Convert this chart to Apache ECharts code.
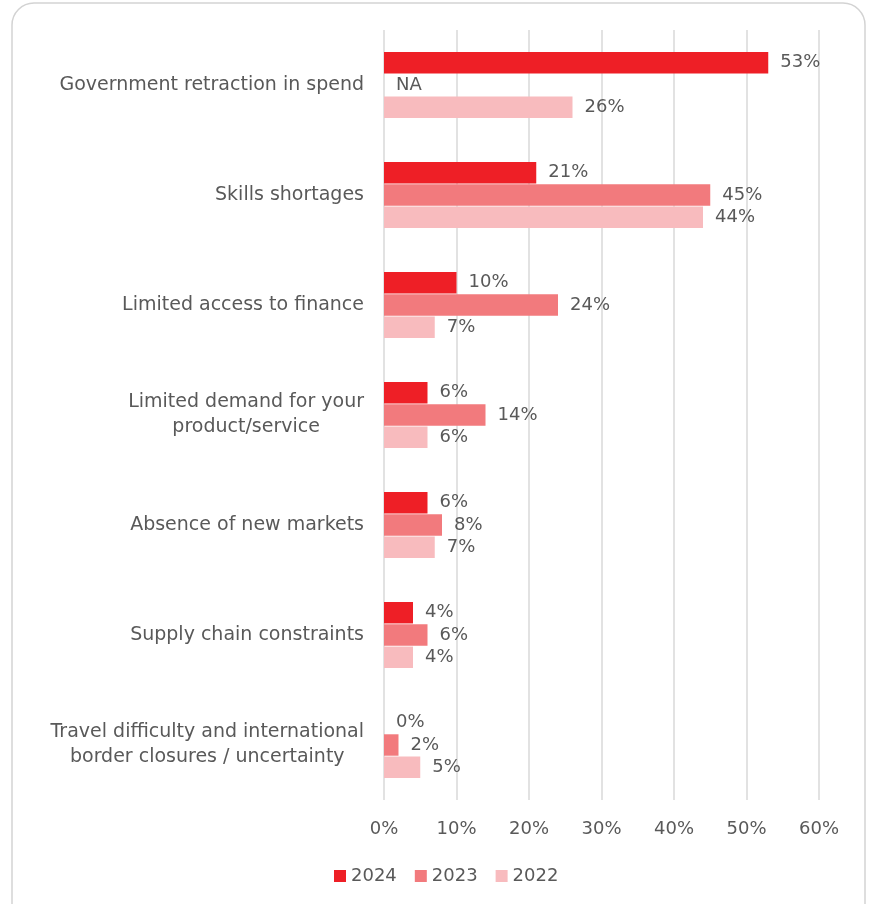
<!DOCTYPE html>
<html>
<head>
<meta charset="utf-8">
<style>
  html, body { margin: 0; padding: 0; background: #ffffff; }
  #chart { width: 870px; height: 904px; }
</style>
<script src="https://cdn.jsdelivr.net/npm/echarts@6/dist/echarts.min.js"></script>
</head>
<body>
<div id="chart"></div>
<script>
// Barriers to growth, share of respondents by survey year
const categories = [
  'Government retraction in spend',
  'Skills shortages',
  'Limited access to finance',
  'Limited demand for your\nproduct/service',
  'Absence of new markets',
  'Supply chain constraints',
  'Travel difficulty and international\nborder closures / uncertainty'
];
const seriesNames = ['2024', '2023', '2022'];
const values2024 = [53, 21, 10, 6, 6, 4, 0];
const values2023 = [null, 45, 24, 14, 8, 6, 2]; // null = not asked that year
const values2022 = [26, 44, 7, 6, 7, 4, 5];
const xTicks = [0, 10, 20, 30, 40, 50, 60];

const colors = ['#EE1F26', '#F27A7D', '#F8BBBE'];
const textColor = '#595959';
const fontFamily = '"DejaVu Sans", sans-serif';

function toData(arr) {
  return arr.map(v => v === null
    ? { value: 0, label: { formatter: 'NA' } }
    : v);
}

const allValues = [values2024, values2023, values2022];

const chart = echarts.init(document.getElementById('chart'));
chart.setOption({
  animation: false,
  textStyle: { fontFamily: fontFamily },
  graphic: [{
    type: 'rect',
    shape: { x: 12, y: 3, width: 853, height: 940, r: 22 },
    style: { fill: 'none', stroke: '#d3d3d3', lineWidth: 1.5 },
    silent: true
  }],
  grid: { left: 384, right: 51, top: 30, bottom: 104 },
  legend: {
    bottom: 14,
    left: 329,
    itemWidth: 12,
    itemHeight: 12,
    itemGap: 18,
    icon: 'rect',
    textStyle: { color: textColor, fontSize: 18, fontFamily: fontFamily },
    data: seriesNames
  },
  xAxis: {
    type: 'value',
    min: xTicks[0],
    max: xTicks[xTicks.length - 1],
    interval: 10,
    axisLine: { show: false },
    axisTick: { show: false },
    splitLine: { lineStyle: { color: '#d9d9d9', width: 1.5 } },
    axisLabel: {
      color: textColor,
      fontSize: 18,
      margin: 20,
      formatter: '{value}%'
    }
  },
  yAxis: {
    type: 'category',
    inverse: true,
    data: categories,
    axisLine: { show: false },
    axisTick: { show: false },
    axisLabel: {
      color: textColor,
      fontSize: 19,
      margin: 20,
      formatter: v => v.split('\n').map(s => '{c|' + s + '}').join('\n'),
      rich: {
        c: { align: 'center', fontSize: 19, color: textColor, lineHeight: 25, fontFamily: fontFamily }
      }
    }
  },
  series: seriesNames.map((name, i) => ({
    name: name,
    type: 'bar',
    data: toData(allValues[i]),
    barGap: '4%',
    barCategoryGap: '40%',
    itemStyle: { color: colors[i] },
    label: {
      show: true,
      position: 'right',
      distance: 12,
      color: textColor,
      fontSize: 18,
      formatter: '{c}%'
    }
  }))
});
</script>
</body>
</html>
